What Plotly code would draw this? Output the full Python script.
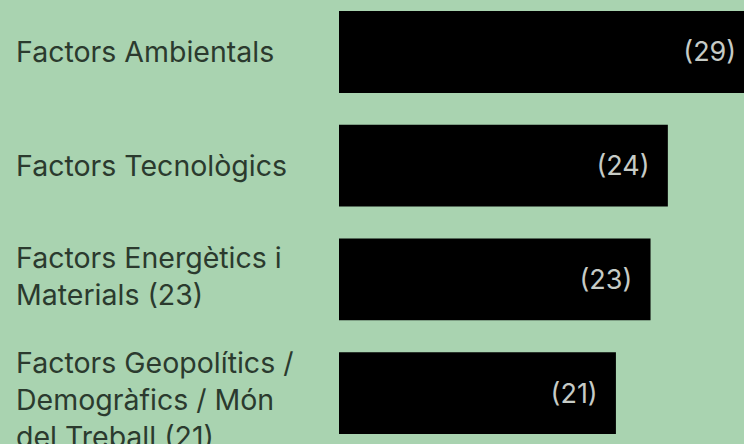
import plotly.graph_objects as go

categories = [
    "Factors Ambientals",
    "Factors Tecnològics",
    "Factors Energètics i<br>Materials (23)",
    "Factors Geopolítics /<br>Demogràfics / Món<br>del Treball (21)",
]
values = [29, 24, 23, 21]
value_labels = ["(29)", "(24)", "(23)", "(21)"]

BG = "#a9d3b0"
NB = "\u00a0"
FONT = "Inter"
label_yshift = [0, 0, 3, -6]

idx = list(range(len(categories)))

fig = go.Figure()
fig.add_trace(go.Bar(
    y=idx,
    x=values,
    orientation="h",
    marker=dict(color="#000000", line=dict(width=0)),
    width=0.72,
    text=[t + NB * 2 for t in value_labels],
    textposition="inside",
    insidetextanchor="end",
    textangle=0,
    textfont=dict(family=FONT, size=27, color="#c6cbc6"),
    cliponaxis=True,
    hoverinfo="skip",
))

for i, c in enumerate(categories):
    fig.add_annotation(
        x=0, xref="paper", y=i, yref="y",
        text=c, showarrow=False,
        xanchor="left", yanchor="middle", align="left",
        xshift=-325, yshift=label_yshift[i],
        font=dict(family=FONT, size=28.5, color="#2b3a2e"),
    )

fig.update_layout(
    width=744, height=444,
    margin=dict(l=339, r=0, t=0, b=0),
    paper_bgcolor=BG, plot_bgcolor=BG,
    showlegend=False,
    xaxis=dict(range=[5.0, 28.4], visible=False, showgrid=False, zeroline=False),
    yaxis=dict(range=[3.448, -0.457], visible=False, showgrid=False, zeroline=False),
)

fig.write_html(
    "out.html",
    config={"displayModeBar": False},
    post_script="document.body.style.margin='0';document.body.style.background='" + BG + "';",
)
